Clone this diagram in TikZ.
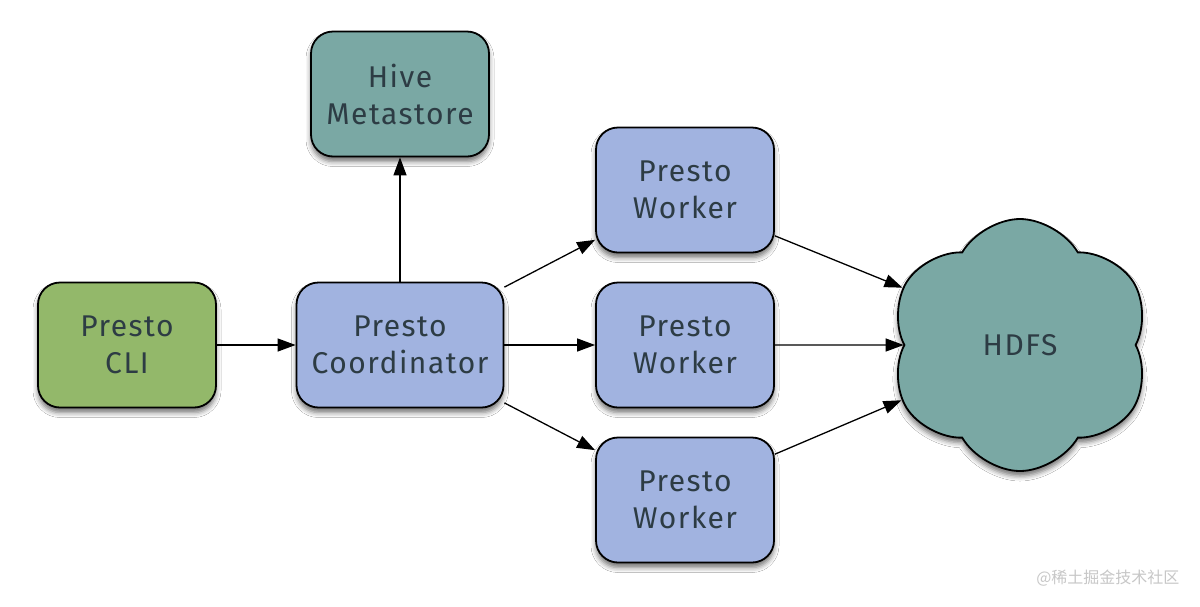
\documentclass[tikz,border=0pt]{standalone}
\usepackage{fontspec}
\setmainfont{Fira Sans}[LetterSpace=5]
\newfontfamily\cjk{Noto Sans CJK SC}
\usetikzlibrary{shapes.symbols,shadows.blur,arrows.meta}
\definecolor{cligreen}{HTML}{93B86A}
\definecolor{prestoblue}{HTML}{A1B3E0}
\definecolor{hiveteal}{HTML}{7AA8A4}
\definecolor{labelgray}{HTML}{2D3C44}
\tikzset{
  box/.style={draw=black, line width=1.8pt, rounded corners=22pt, minimum width=178pt,
    minimum height=125pt, align=center, text=labelgray, font=\fontsize{30}{37}\selectfont,
    blur shadow={shadow xshift=0pt, shadow yshift=-5pt, shadow blur radius=5pt, shadow opacity=55}},
  link/.style={line width=1.3pt, -{Triangle[length=18pt,width=13pt]}}
}
\begin{document}
\begin{tikzpicture}[x=1pt,y=-1pt]
\useasboundingbox[fill=white] (0,0) rectangle (1200,606);
\node[box, fill=hiveteal] (hive) at (400,94){Hive\\Metastore};
\node[box, fill=cligreen] (cli) at (127,345){Presto\\CLI};
\node[box, fill=prestoblue, minimum width=207pt] (coord) at (400,345){Presto\\Coordinator};
\node[box, fill=prestoblue] (wk1) at (685,190){Presto\\Worker};
\node[box, fill=prestoblue] (wk2) at (685,345){Presto\\Worker};
\node[box, fill=prestoblue] (wk3) at (685,500){Presto\\Worker};
\node[cloud, cloud puffs=6, cloud puff arc=120, cloud ignores aspect, draw=black, line width=1.8pt,
  fill=hiveteal, minimum width=262pt, minimum height=252pt, text=labelgray,
  font=\fontsize{30}{37}\selectfont, shape border rotate=10,
  blur shadow={shadow xshift=0pt, shadow yshift=-5pt, shadow blur radius=5pt, shadow opacity=55}]
  (hdfs) at (1020,345){HDFS};
\draw[link](cli) -- (coord);
\draw[link](coord.north) -- (hive.south);
\draw[link](coord.29) -- (wk1.209);
\draw[link](coord) -- (wk2);
\draw[link](coord.-29) -- (wk3.151);
\draw[link](wk1.-27) -- (hdfs.154);
\draw[link](wk2) -- (hdfs);
\draw[link](wk3.27) -- (hdfs.205);
\node[text=black!22, font=\cjk\fontsize{16}{18}\selectfont, anchor=east] (mark) at (1183,578){@稀土掘金技术社区};
\end{tikzpicture}
\end{document}
